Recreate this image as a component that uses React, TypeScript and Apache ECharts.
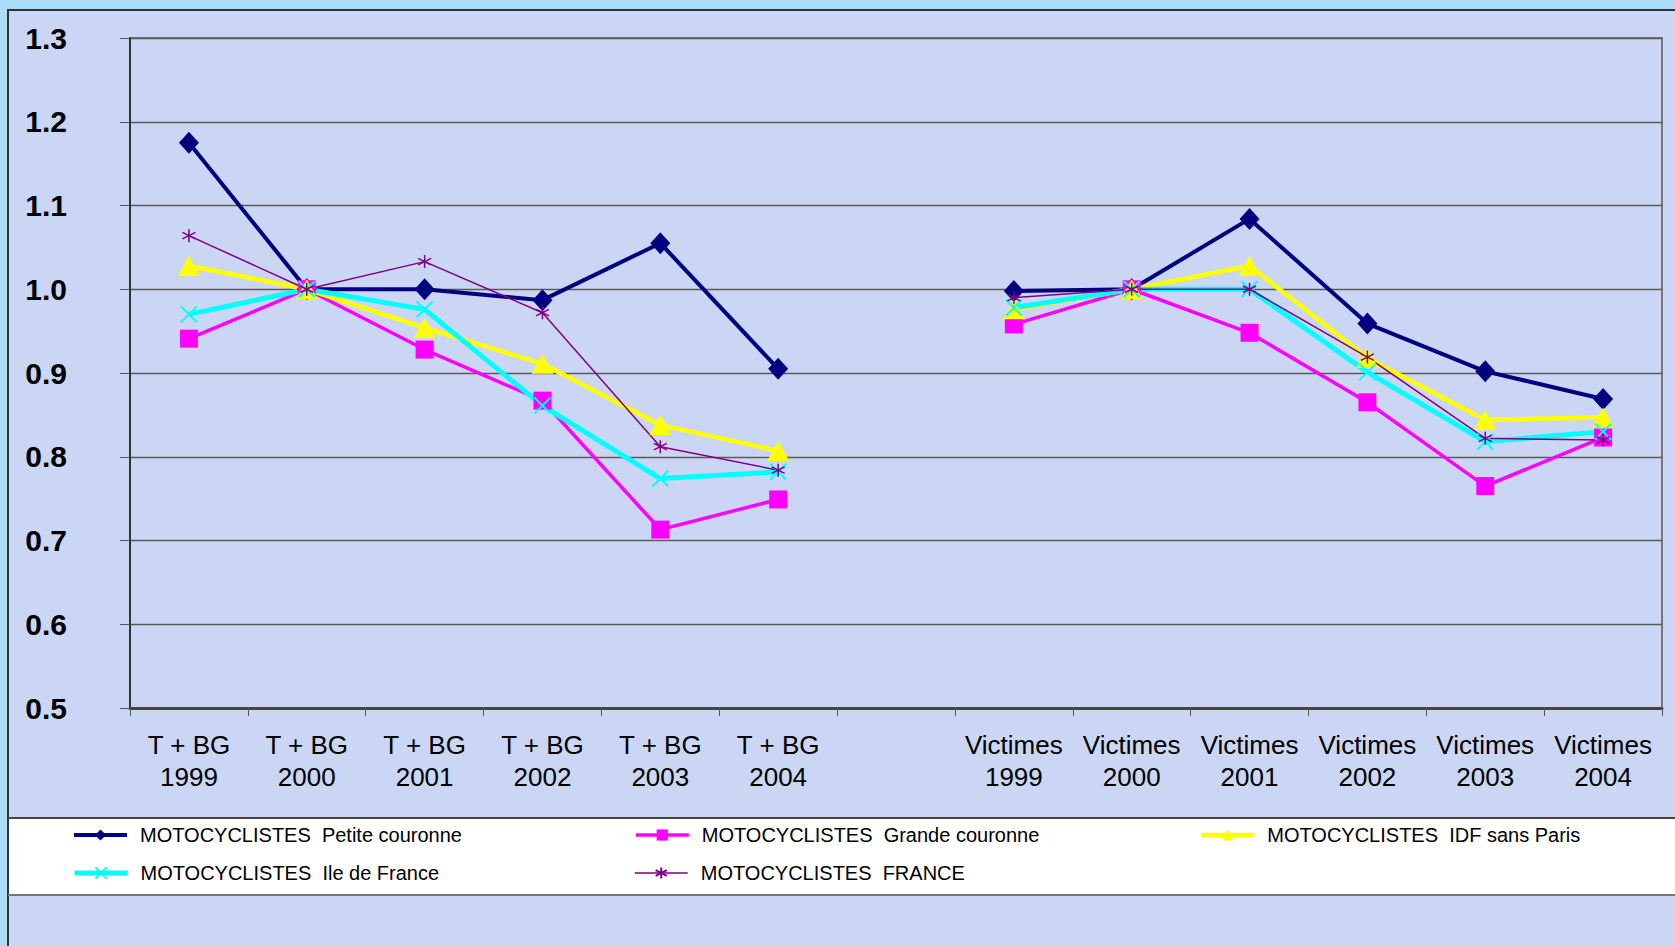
import React, { useEffect, useRef } from "react";
import * as echarts from "echarts";

const categories = [
  "T + BG\n1999", "T + BG\n2000", "T + BG\n2001", "T + BG\n2002", "T + BG\n2003", "T + BG\n2004",
  "",
  "Victimes\n1999", "Victimes\n2000", "Victimes\n2001", "Victimes\n2002", "Victimes\n2003", "Victimes\n2004",
];

const seriesNames = [
  "MOTOCYCLISTES  Petite couronne",
  "MOTOCYCLISTES  Grande couronne",
  "MOTOCYCLISTES  IDF sans Paris",
  "MOTOCYCLISTES  Ile de France",
  "MOTOCYCLISTES  FRANCE",
];

const petiteCouronne = [1.175, 1.0, 1.0, 0.987, 1.055, 0.905, null, 0.998, 1.0, 1.084, 0.959, 0.902, 0.869];
const grandeCouronne = [0.941, 1.0, 0.928, 0.867, 0.713, 0.749, null, 0.958, 1.0, 0.948, 0.865, 0.765, 0.823];
const idfSansParis = [1.028, 1.0, 0.954, 0.911, 0.838, 0.807, null, 0.976, 1.0, 1.028, 0.918, 0.844, 0.847];
const ileDeFrance = [0.970, 1.0, 0.976, 0.861, 0.774, 0.782, null, 0.978, 1.0, 1.0, 0.901, 0.818, 0.830];
const france = [1.064, 1.0, 1.033, 0.972, 0.812, 0.784, null, 0.990, 1.0, 1.0, 0.919, 0.822, 0.820];

const FONT = "'Liberation Sans', Arial, sans-serif";

export default function App() {
  const ref = useRef<HTMLDivElement>(null);

  useEffect(() => {
    if (!ref.current) return;
    const chart = echarts.init(ref.current, null, { renderer: "svg" });

    const legendBase = {
      padding: 0,
      itemWidth: 53,
      itemHeight: 14,
      textStyle: { fontFamily: FONT, fontSize: 20, color: "#000", lineHeight: 20, padding: [0, 0, 0, 8] },
    };

    chart.setOption({
      animation: false,
      textStyle: { fontFamily: FONT },
      graphic: [
        {
          type: "rect",
          z: -10,
          silent: true,
          shape: { x: 8, y: 10, width: 1700, height: 1000 },
          style: { fill: "#cbd6f4", stroke: "#333", lineWidth: 2 },
        },
        {
          type: "rect",
          z: -5,
          silent: true,
          shape: { x: 9, y: 818, width: 1680, height: 77 },
          style: { fill: "#ffffff" },
        },
        {
          type: "line",
          z: -4,
          silent: true,
          shape: { x1: 8, y1: 818, x2: 1675, y2: 818 },
          style: { stroke: "#444", lineWidth: 2 },
        },
        {
          type: "line",
          z: -4,
          silent: true,
          shape: { x1: 8, y1: 895, x2: 1675, y2: 895 },
          style: { stroke: "#777", lineWidth: 2 },
        },
      ],
      legend: [
        { ...legendBase, data: [seriesNames[0]], left: 72, top: 825, lineStyle: { width: 4 } },
        { ...legendBase, data: [seriesNames[1]], left: 634, top: 825, lineStyle: { width: 3.5 } },
        { ...legendBase, data: [seriesNames[2]], left: 1199, top: 825, lineStyle: { width: 4.5 } },
        { ...legendBase, data: [seriesNames[3]], left: 72, top: 863, lineStyle: { width: 5 } },
        { ...legendBase, data: [seriesNames[4]], left: 634, top: 863, lineStyle: { width: 1.5 } },
      ],
      grid: {
        left: 130,
        right: 13,
        top: 38,
        bottom: 238,
        show: true,
        borderColor: "#777",
        borderWidth: 2,
        backgroundColor: "transparent",
      },
      xAxis: {
        type: "category",
        data: categories,
        boundaryGap: true,
        axisLine: { lineStyle: { color: "#444", width: 3 } },
        axisTick: { show: true, interval: 0, length: 8, lineStyle: { color: "#555", width: 1 } },
        axisLabel: {
          interval: 0,
          fontSize: 26,
          lineHeight: 32,
          margin: 21,
          color: "#000",
          fontFamily: FONT,
        },
        splitLine: { show: false },
      },
      yAxis: {
        type: "value",
        min: 0.5,
        max: 1.3,
        interval: 0.1,
        axisLine: { show: true, lineStyle: { color: "#333", width: 2 } },
        axisTick: { show: true, length: 10, lineStyle: { color: "#555", width: 1 } },
        axisLabel: {
          fontSize: 30,
          fontWeight: "bold",
          color: "#000",
          margin: 63,
          fontFamily: FONT,
          formatter: (v: number) => v.toFixed(1),
        },
        splitLine: { show: true, lineStyle: { color: "#5a5a5a", width: 1.3 } },
      },
      series: [
        {
          name: seriesNames[0],
          type: "line",
          data: petiteCouronne,
          connectNulls: false,
          symbol: "diamond",
          symbolSize: [20, 22],
          lineStyle: { color: "#000080", width: 4 },
          itemStyle: { color: "#000080" },
        },
        {
          name: seriesNames[1],
          type: "line",
          data: grandeCouronne,
          connectNulls: false,
          symbol: "rect",
          symbolSize: 18,
          lineStyle: { color: "#ff00ff", width: 3.5 },
          itemStyle: { color: "#ff00ff" },
        },
        {
          name: seriesNames[2],
          type: "line",
          data: idfSansParis,
          connectNulls: false,
          symbol: "triangle",
          symbolSize: [22, 20],
          lineStyle: { color: "#ffff00", width: 4.5 },
          itemStyle: { color: "#ffff00" },
        },
        {
          name: seriesNames[3],
          type: "line",
          data: ileDeFrance,
          connectNulls: false,
          symbol: "path://M0,0L10,10M10,0L0,10",
          symbolSize: 16,
          lineStyle: { color: "#00ffff", width: 5 },
          itemStyle: { color: "#00ffff", borderColor: "#00ffff", borderWidth: 2 },
        },
        {
          name: seriesNames[4],
          type: "line",
          data: france,
          connectNulls: false,
          symbol: "path://M5,0L5,10M0.7,2.5L9.3,7.5M0.7,7.5L9.3,2.5",
          symbolSize: 13,
          lineStyle: { color: "#800080", width: 1.5 },
          itemStyle: { color: "#800080", borderColor: "#800080", borderWidth: 1.5 },
        },
      ],
    });

    return () => chart.dispose();
  }, []);

  return (
    <div
      ref={ref}
      style={{
        position: "absolute",
        left: 0,
        top: 0,
        width: 1675,
        height: 946,
        background: "#a9dcf7",
      }}
    />
  );
}
